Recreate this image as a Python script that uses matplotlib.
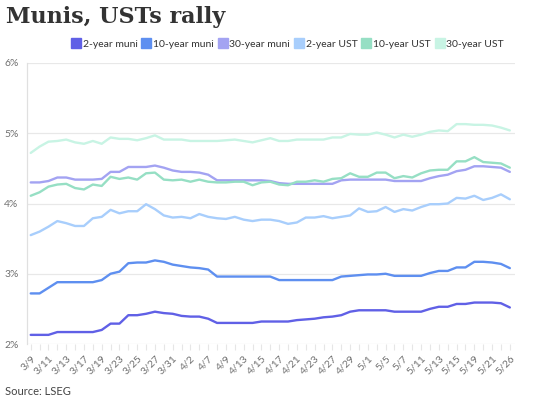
import matplotlib
matplotlib.use("Agg")
import matplotlib.pyplot as plt
from matplotlib.lines import Line2D
from matplotlib.ticker import FuncFormatter

dates = ["3/9","3/10","3/11","3/12","3/13","3/16","3/17","3/18","3/19","3/20",
         "3/23","3/24","3/25","3/26","3/27","3/30","3/31","4/1","4/2","4/6",
         "4/7","4/8","4/9","4/10","4/13","4/14","4/15","4/16","4/17","4/20",
         "4/21","4/22","4/23","4/24","4/27","4/28","4/29","4/30","5/1","5/4",
         "5/5","5/6","5/7","5/8","5/11","5/12","5/13","5/14","5/15","5/18",
         "5/19","5/20","5/21","5/22","5/26"]

muni_2y = [2.13,2.13,2.13,2.17,2.17,2.17,2.17,2.17,2.20,2.29,2.29,2.41,2.41,2.43,2.46,
           2.44,2.43,2.40,2.39,2.39,2.36,2.30,2.30,2.30,2.30,2.30,2.32,2.32,2.32,2.32,
           2.34,2.35,2.36,2.38,2.39,2.41,2.46,2.48,2.48,2.48,2.48,2.46,2.46,2.46,2.46,
           2.50,2.53,2.53,2.57,2.57,2.59,2.59,2.59,2.58,2.52]
muni_10y = [2.72,2.72,2.80,2.88,2.88,2.88,2.88,2.88,2.91,3.00,3.03,3.15,3.16,3.16,3.19,
            3.17,3.13,3.11,3.09,3.08,3.06,2.96,2.96,2.96,2.96,2.96,2.96,2.96,2.91,2.91,
            2.91,2.91,2.91,2.91,2.91,2.96,2.97,2.98,2.99,2.99,3.00,2.97,2.97,2.97,2.97,
            3.01,3.04,3.04,3.09,3.09,3.17,3.17,3.16,3.14,3.08]
muni_30y = [4.30,4.30,4.32,4.37,4.37,4.34,4.34,4.34,4.35,4.45,4.45,4.52,4.52,4.52,4.54,
            4.51,4.47,4.45,4.45,4.44,4.41,4.33,4.33,4.33,4.33,4.33,4.33,4.32,4.29,4.28,
            4.28,4.28,4.28,4.28,4.28,4.33,4.34,4.34,4.34,4.34,4.34,4.32,4.32,4.32,4.32,
            4.36,4.39,4.41,4.46,4.48,4.53,4.53,4.52,4.51,4.45]
ust_2y = [3.55,3.60,3.67,3.75,3.72,3.68,3.68,3.79,3.81,3.91,3.86,3.89,3.89,3.99,3.92,
          3.83,3.80,3.81,3.79,3.85,3.81,3.79,3.78,3.81,3.77,3.75,3.77,3.77,3.75,3.71,
          3.73,3.80,3.80,3.82,3.79,3.81,3.83,3.93,3.88,3.89,3.95,3.88,3.92,3.90,3.95,
          3.99,3.99,4.00,4.08,4.07,4.11,4.05,4.08,4.13,4.06]
ust_10y = [4.11,4.16,4.24,4.27,4.28,4.22,4.20,4.27,4.25,4.38,4.35,4.37,4.34,4.43,4.44,
           4.34,4.33,4.34,4.31,4.34,4.31,4.30,4.30,4.31,4.31,4.26,4.30,4.31,4.27,4.26,
           4.31,4.31,4.33,4.31,4.35,4.36,4.43,4.38,4.38,4.44,4.44,4.36,4.39,4.37,4.43,
           4.47,4.48,4.48,4.60,4.60,4.66,4.59,4.58,4.57,4.51]
ust_30y = [4.72,4.81,4.88,4.89,4.91,4.87,4.85,4.89,4.85,4.94,4.92,4.92,4.90,4.93,4.97,
           4.91,4.91,4.91,4.89,4.89,4.89,4.89,4.90,4.91,4.89,4.87,4.90,4.93,4.89,4.89,
           4.91,4.91,4.91,4.91,4.94,4.94,4.99,4.98,4.98,5.01,4.98,4.94,4.98,4.95,4.98,
           5.02,5.04,5.03,5.13,5.13,5.12,5.12,5.11,5.08,5.04]

series_names = ["2-year muni", "10-year muni", "30-year muni",
                "2-year UST", "10-year UST", "30-year UST"]
series_values = [muni_2y, muni_10y, muni_30y, ust_2y, ust_10y, ust_30y]
colors = ["#6060e6", "#5e8ff0", "#a3a3f2", "#a8cefc", "#96dfc4", "#c8f4e4"]

y_ticks = [2, 3, 4, 5, 6]

plt.rcParams['font.family'] = ['Lato', 'DejaVu Sans']

fig = plt.figure(figsize=(5.4, 4.0), dpi=100)
ax = fig.add_axes([0.05, 0.14, 0.904, 0.7025])

x = list(range(len(dates)))
for name, vals, c in zip(series_names, series_values, colors):
    ax.plot(x, vals, color=c, lw=1.7, solid_joinstyle='round', solid_capstyle='round', label=name)

ax.set_ylim(2, 6)
ax.set_xlim(-0.42, 54.6)
ax.set_yticks(y_ticks)
ax.yaxis.set_major_formatter(FuncFormatter(lambda v, p: f"{v:.0f}%"))
ax.set_xticks(x)
ax.set_xticklabels([d if i % 2 == 0 else "" for i, d in enumerate(dates)],
                   rotation=45, ha='right', rotation_mode='anchor', fontsize=7.5, color='#707070')
ax.tick_params(axis='x', length=4, color='#e6e6e6', pad=3)
ax.tick_params(axis='y', length=0, labelsize=7.5, labelcolor='#707070', pad=6)
ax.grid(axis='y', color='#e8e8e8', lw=0.9)
ax.set_axisbelow(True)
for s in ['top', 'right', 'bottom']:
    ax.spines[s].set_visible(False)
ax.spines['left'].set_color('#e0e0e0')
ax.spines['left'].set_linewidth(0.9)

fig.text(0.012, 0.985, "Munis, USTs rally", fontsize=16, fontweight='bold',
         family='DejaVu Serif', color='#333333', va='top', ha='left')

handles = [Line2D([0], [0], marker='s', ls='none', markersize=6.5, markerfacecolor=c,
                  markeredgecolor=c) for c in colors]
fig.legend(handles, series_names, loc='center', bbox_to_anchor=(0.533, 0.89), ncol=6,
           frameon=False, fontsize=7.5, handletextpad=0.25, columnspacing=0.45,
           handlelength=0.8, labelcolor='#333333')

fig.text(0.01, 0.022, "Source: LSEG", fontsize=8, color='#444444', ha='left', va='center')

fig.savefig("out.png", dpi=100)
